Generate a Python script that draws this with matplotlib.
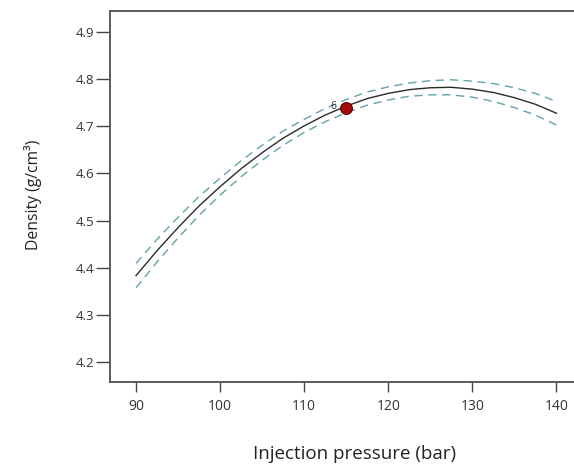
import matplotlib
matplotlib.use('Agg')
import matplotlib.pyplot as plt

plt.rcParams['font.family'] = ['Open Sans', 'DejaVu Sans']

# injection pressure (bar) and predicted density (g/cm3)
pressure = [90, 92.5, 95, 97.5, 100, 102.5, 105, 107.5, 110, 112.5, 115,
            117.5, 120, 122.5, 125, 127.5, 130, 132.5, 135, 137.5, 140]
density = [4.383, 4.436, 4.485, 4.531, 4.572, 4.610, 4.644, 4.675, 4.701, 4.724, 4.743,
           4.759, 4.770, 4.778, 4.782, 4.783, 4.779, 4.772, 4.761, 4.747, 4.728]
upper = [4.409, 4.460, 4.507, 4.551, 4.590, 4.627, 4.660, 4.690, 4.715, 4.738, 4.757,
         4.773, 4.784, 4.792, 4.797, 4.799, 4.796, 4.791, 4.782, 4.770, 4.753]
lower = [4.357, 4.412, 4.463, 4.511, 4.554, 4.593, 4.628, 4.660, 4.687, 4.710, 4.729,
         4.745, 4.756, 4.764, 4.767, 4.767, 4.762, 4.753, 4.740, 4.724, 4.703]

run_x = [115]
run_y = [4.74]
run_label = ['6']

yticks = [4.2, 4.3, 4.4, 4.5, 4.6, 4.7, 4.8, 4.9]
xticks = [90, 100, 110, 120, 130, 140]

fig = plt.figure(figsize=(5.74, 4.65), dpi=100)
ax = fig.add_axes([0.1916, 0.1785, 0.8084, 0.7978])

ax.plot(pressure, upper, color='#62a2aa', lw=1.0, dashes=(6, 4))
ax.plot(pressure, lower, color='#62a2aa', lw=1.0, dashes=(6, 4))
ax.plot(pressure, density, color='#2b2b2b', lw=1.0)
ax.plot(run_x, run_y, 'o', ms=8.5, color='#a30d0d', mec='#5a0000', mew=0.8, zorder=5)
for x, y, t in zip(run_x, run_y, run_label):
    ax.text(x - 1.2, y + 0.002, t, fontsize=7.5, ha='right', va='center', color='#333333')

ax.set_xlim(86.9, 142.1)
ax.set_ylim(4.157, 4.945)
ax.set_xticks(xticks)
ax.set_yticks(yticks)
ax.set_yticklabels(['%.1f' % v for v in yticks])

for s in ['left', 'top', 'bottom']:
    ax.spines[s].set_color('#5a5a5a')
    ax.spines[s].set_linewidth(1.4)
ax.spines['right'].set_visible(False)

ax.tick_params(axis='y', direction='out', length=10, width=1.0, color='#444444',
               labelsize=9.5, labelcolor='#333333', pad=1.5)
ax.tick_params(axis='x', direction='out', length=7, width=1.0, color='#444444',
               labelsize=10, labelcolor='#333333', pad=5)

fig.text(33 / 574, 1 - 195 / 465, 'Density (g/cm³)', rotation=90, ha='center', va='center',
         fontsize=11.3, color='#222222')
fig.text(355 / 574, 1 - 454 / 465, 'Injection pressure (bar)', ha='center', va='center',
         fontsize=13.5, color='#222222')

fig.savefig('out.png', dpi=100)
